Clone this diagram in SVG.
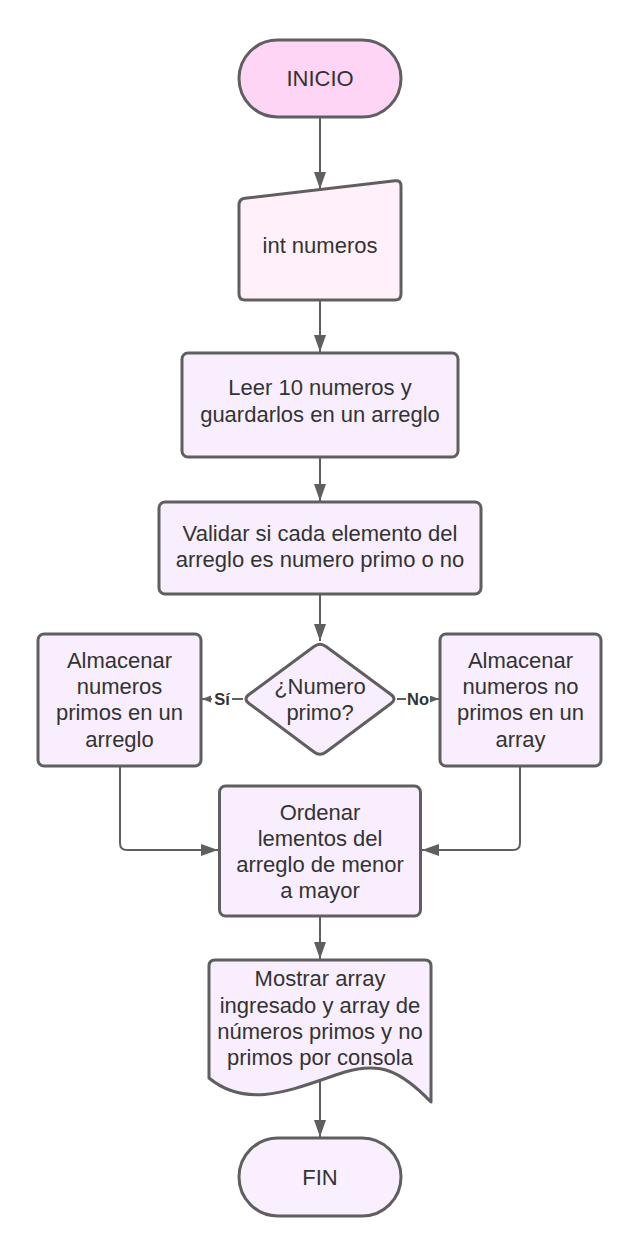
<svg xmlns="http://www.w3.org/2000/svg" width="640" height="1260" viewBox="0 0 640 1260">
<style>
.shape{stroke:#5f5f5f;stroke-width:3;stroke-linejoin:round}
.t{font-family:"Liberation Sans",Arial,sans-serif;font-size:22px;fill:#333333;text-anchor:middle}
.lbl{font-family:"Liberation Sans",Arial,sans-serif;font-size:16.5px;font-weight:bold;fill:#333333;text-anchor:middle}
.c{fill:none;stroke:#5f5f5f;stroke-width:2}
</style>
<defs>
<marker id="arr" markerUnits="userSpaceOnUse" markerWidth="18" markerHeight="13" refX="17" refY="6" orient="auto">
<path d="M0,0 L17,6 L0,12 z" fill="#5f5f5f"/>
</marker>
<marker id="arrs" markerUnits="userSpaceOnUse" markerWidth="10" markerHeight="8" refX="9" refY="3.5" orient="auto">
<path d="M0,0 L9,3.5 L0,7 z" fill="#5f5f5f"/>
</marker>
</defs>
<rect width="640" height="1260" fill="#ffffff"/>
<g id="connectors">
<line class="c" x1="320" y1="117" x2="320" y2="189" marker-end="url(#arr)"/>
<line class="c" x1="320" y1="300" x2="320" y2="352" marker-end="url(#arr)"/>
<line class="c" x1="320" y1="457" x2="320" y2="501" marker-end="url(#arr)"/>
<line class="c" x1="320" y1="594" x2="320" y2="641" marker-end="url(#arr)"/>
<line class="c" x1="243" y1="699" x2="202" y2="699" marker-end="url(#arrs)"/>
<line class="c" x1="397" y1="699" x2="439" y2="699" marker-end="url(#arrs)"/>
<path class="c" d="M120,766 L120,843 Q120,850 127,850 L218,850" marker-end="url(#arr)"/>
<path class="c" d="M520,766 L520,843 Q520,850 513,850 L422,850" marker-end="url(#arr)"/>
<line class="c" x1="320" y1="916" x2="320" y2="959" marker-end="url(#arr)"/>
<line class="c" x1="320" y1="1080" x2="320" y2="1137" marker-end="url(#arr)"/>
<rect x="212" y="690" width="20" height="18" fill="#ffffff"/>
<text class="lbl" x="222" y="705">Sí</text>
<rect x="406" y="690" width="24" height="18" fill="#ffffff"/>
<text class="lbl" x="418" y="705">No</text>
</g>
<g id="inicio">
<rect class="shape" x="239" y="40" width="162" height="77" rx="38.5" fill="#ffd5f6"/>
<text class="t" x="320" y="86">INICIO</text>
</g>
<g id="int-numeros">
<path class="shape" d="M245,198.3 L395,180.7 Q401,180 401,186 L401,294 Q401,300 395,300 L245,300 Q239,300 239,294 L239,205 Q239,199 245,198.3 z" fill="#fff0fa"/>
<text class="t" x="320" y="253">int numeros</text>
</g>
<g id="leer">
<rect class="shape" x="182" y="353" width="276" height="104" rx="6" fill="#f8eefd"/>
<text class="t" x="320" y="395">Leer 10 numeros y</text>
<text class="t" x="320" y="422">guardarlos en un arreglo</text>
</g>
<g id="validar">
<rect class="shape" x="159" y="502" width="322" height="92" rx="6" fill="#f8eefd"/>
<text class="t" x="320" y="541">Validar si cada elemento del</text>
<text class="t" x="320" y="567">arreglo es numero primo o no</text>
</g>
<g id="decision">
<path class="shape" d="M314,646.5 Q320,642 326,646.5 L391,694.5 Q397,699 391,703.5 L326,752 Q320,756.5 314,752 L249,703.5 Q243,699 249,694.5 z" fill="#f8eefd"/>
<text class="t" x="320" y="694">¿Numero</text>
<text class="t" x="320" y="720">primo?</text>
</g>
<g id="almacenar-primos">
<rect class="shape" x="38" y="634" width="163" height="132" rx="6" fill="#f8eefd"/>
<text class="t" x="119.5" y="668">Almacenar</text>
<text class="t" x="119.5" y="694">numeros</text>
<text class="t" x="119.5" y="720">primos en un</text>
<text class="t" x="119.5" y="747">arreglo</text>
</g>
<g id="almacenar-no-primos">
<rect class="shape" x="440" y="634" width="161" height="132" rx="6" fill="#f8eefd"/>
<text class="t" x="520.5" y="668">Almacenar</text>
<text class="t" x="520.5" y="694">numeros no</text>
<text class="t" x="520.5" y="720">primos en un</text>
<text class="t" x="520.5" y="747">array</text>
</g>
<g id="ordenar">
<rect class="shape" x="219.5" y="786" width="201" height="130" rx="6" fill="#f8eefd"/>
<text class="t" x="320" y="820">Ordenar</text>
<text class="t" x="320" y="846">lementos del</text>
<text class="t" x="320" y="872">arreglo de menor</text>
<text class="t" x="320" y="898">a mayor</text>
</g>
<g id="mostrar">
<path class="shape" d="M215,960 L425,960 Q431,960 431,966 L431,1102 C400,1070 380,1062 345,1072 C300,1086 250,1112 209,1078 L209,966 Q209,960 215,960 z" fill="#f8eefd"/>
<text class="t" x="320" y="986">Mostrar array</text>
<text class="t" x="320" y="1013">ingresado y array de</text>
<text class="t" x="320" y="1039">números primos y no</text>
<text class="t" x="320" y="1065">primos por consola</text>
</g>
<g id="fin">
<rect class="shape" x="239" y="1138" width="162" height="78" rx="39" fill="#f9efff"/>
<text class="t" x="320" y="1185">FIN</text>
</g>
</svg>
